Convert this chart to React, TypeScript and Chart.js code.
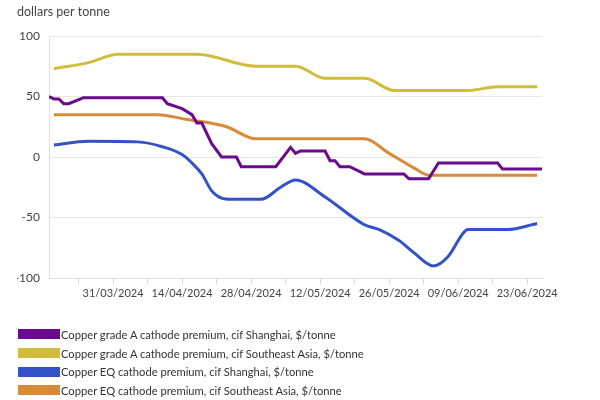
import React, { useEffect, useRef } from "react";
import { Chart, registerables } from "chart.js";

Chart.register(...registerables);

const seriesNames = [
  "Copper grade A cathode premium, cif Shanghai, $/tonne",
  "Copper grade A cathode premium, cif Southeast Asia, $/tonne",
  "Copper EQ cathode premium, cif Shanghai, $/tonne",
  "Copper EQ cathode premium, cif Southeast Asia, $/tonne",
];
const seriesColors = ["#6a0a8c", "#d1bd3b", "#3452c7", "#d88a38"];

const gradeAShanghaiDates = [
  "2024-03-18", "2024-03-19", "2024-03-20", "2024-03-21", "2024-03-22", "2024-03-25",
  "2024-04-10", "2024-04-11", "2024-04-14", "2024-04-16", "2024-04-17", "2024-04-18",
  "2024-04-20", "2024-04-22", "2024-04-25", "2024-04-26", "2024-05-03", "2024-05-06",
  "2024-05-07", "2024-05-08", "2024-05-13", "2024-05-14", "2024-05-15", "2024-05-16",
  "2024-05-18", "2024-05-21", "2024-05-29", "2024-05-30", "2024-06-03", "2024-06-05",
  "2024-06-17", "2024-06-18", "2024-06-26",
];
const gradeAShanghaiValues = [
  50, 48, 48, 44, 44, 49,
  49, 44, 40, 35, 28, 28,
  11, 0, 0, -8, -8, 8,
  3, 5, 5, -3, -3, -8,
  -8, -14, -14, -18, -18, -5,
  -5, -10, -10,
];

const gradeASEADates = [
  "2024-03-19", "2024-03-26", "2024-04-01", "2024-04-17", "2024-04-29", "2024-05-07",
  "2024-05-13", "2024-05-21", "2024-05-27", "2024-06-11", "2024-06-17", "2024-06-25",
];
const gradeASEAValues = [73, 78, 85, 85, 75, 75, 65, 65, 55, 55, 58, 58];

const eqShanghaiDates = [
  "2024-03-19", "2024-03-26", "2024-04-05", "2024-04-10", "2024-04-14", "2024-04-16",
  "2024-04-18", "2024-04-20", "2024-04-22", "2024-04-24", "2024-04-30", "2024-05-04",
  "2024-05-07", "2024-05-13", "2024-05-21", "2024-05-24", "2024-05-28", "2024-05-31",
  "2024-06-04", "2024-06-07", "2024-06-10", "2024-06-11", "2024-06-19", "2024-06-25",
];
const eqShanghaiValues = [
  10, 13, 12.5, 8.5, 2, -5,
  -14, -28, -34, -35, -35, -25,
  -19, -33, -56, -60, -69, -79,
  -90, -82, -63, -60, -60, -55,
];

const eqSEADates = [
  "2024-03-19", "2024-04-09", "2024-04-15", "2024-04-23", "2024-04-29", "2024-05-21",
  "2024-05-26", "2024-05-31", "2024-06-03", "2024-06-25",
];
const eqSEAValues = [35, 35, 31, 25, 15, 15, 3, -9, -15, -15];

const tickDates = [
  "2024-03-24", "2024-03-31", "2024-04-07", "2024-04-14", "2024-04-21", "2024-04-28",
  "2024-05-05", "2024-05-12", "2024-05-19", "2024-05-26", "2024-06-02", "2024-06-09",
  "2024-06-16", "2024-06-23",
];
const tickLabels = [
  "31/03/2024", "14/04/2024", "28/04/2024", "12/05/2024", "26/05/2024", "09/06/2024", "23/06/2024",
];
const yTicks = [-100, -50, 0, 50, 100];
const xMinDate = "2024-03-18";
const xMaxDate = "2024-06-26";

const BASE = Date.UTC(2024, 2, 31);
function dayOf(s: string): number {
  const [y, m, d] = s.split("-").map(Number);
  return Math.round((Date.UTC(y, m - 1, d) - BASE) / 86400000);
}
function fmt(day: number): string {
  const dt = new Date(BASE + day * 86400000);
  const dd = String(dt.getUTCDate()).padStart(2, "0");
  const mm = String(dt.getUTCMonth() + 1).padStart(2, "0");
  return `${dd}/${mm}/${dt.getUTCFullYear()}`;
}
function pts(dates: string[], vals: number[]) {
  return dates.map((d, i) => ({ x: dayOf(d), y: vals[i] }));
}

const FONT = "Lato";

export default function App() {
  const ref = useRef<HTMLCanvasElement>(null);
  useEffect(() => {
    if (!ref.current) return;
    const mk = (i: number, dates: string[], vals: number[], stepped: boolean) => ({
      label: seriesNames[i],
      data: pts(dates, vals),
      borderColor: seriesColors[i],
      backgroundColor: seriesColors[i],
      borderWidth: 3,
      pointRadius: 0,
      tension: stepped ? 0 : 0.4,
      cubicInterpolationMode: stepped ? "default" : "monotone",
      fill: false,
    });
    const chart = new Chart(ref.current, {
      type: "line",
      data: {
        datasets: [
          mk(0, gradeAShanghaiDates, gradeAShanghaiValues, true),
          mk(1, gradeASEADates, gradeASEAValues, false),
          mk(2, eqShanghaiDates, eqShanghaiValues, false),
          mk(3, eqSEADates, eqSEAValues, false),
        ] as any,
      },
      options: {
        animation: false,
        responsive: false,
        devicePixelRatio: 1,
        layout: { padding: { left: 17, right: 58, top: 0, bottom: 100 } },
        plugins: {
          legend: { display: false },
          tooltip: { enabled: false },
          title: {
            display: true,
            text: "dollars per tonne",
            align: "start",
            color: "#444",
            font: { family: FONT, size: 12.5, weight: "normal" },
            padding: { top: 4, bottom: 17 },
          },
        },
        scales: {
          x: {
            type: "linear",
            min: dayOf(xMinDate),
            max: dayOf(xMaxDate),
            afterBuildTicks: (scale: any) => {
              scale.ticks = tickDates.map((d) => ({ value: dayOf(d) }));
            },
            afterFit: (scale: any) => {
              scale.height = 22;
            },
            ticks: {
              autoSkip: false,
              maxRotation: 0,
              color: "#444",
              padding: 3,
              font: { family: FONT, size: 11 },
              callback: (v: any) => {
                const s = fmt(Number(v));
                return tickLabels.includes(s) ? s : "";
              },
            },
            grid: { drawOnChartArea: false, drawTicks: true, tickLength: 6, color: "#d8d8d8" },
            border: { display: true, color: "#e0e0e0" },
          },
          y: {
            min: -100,
            max: 100,
            afterBuildTicks: (scale: any) => {
              scale.ticks = yTicks.map((v) => ({ value: v }));
            },
            afterFit: (scale: any) => {
              scale.width = 32;
            },
            ticks: {
              color: "#444",
              padding: 9,
              font: { family: FONT, size: 12 },
            },
            grid: { color: "#e6e6e6", drawTicks: false },
            border: { display: true, color: "#e0e0e0" },
          },
        },
      },
    });
    return () => chart.destroy();
  }, []);

  return (
    <div style={{ position: "absolute", left: 0, top: 0, width: 600, height: 400, background: "#fff" }}>
      <canvas ref={ref} width={600} height={400} style={{ width: 600, height: 400, display: "block" }} />
      <div style={{ position: "absolute", left: 18, top: 325, fontFamily: FONT, fontSize: 11.2, color: "#333" }}>
        {seriesNames.map((n, i) => (
          <div key={n} style={{ display: "flex", alignItems: "center", height: 18.7 }}>
            <span style={{ display: "inline-block", width: 42, height: 10, background: seriesColors[i], marginRight: 1 }} />
            <span>{n}</span>
          </div>
        ))}
      </div>
    </div>
  );
}
